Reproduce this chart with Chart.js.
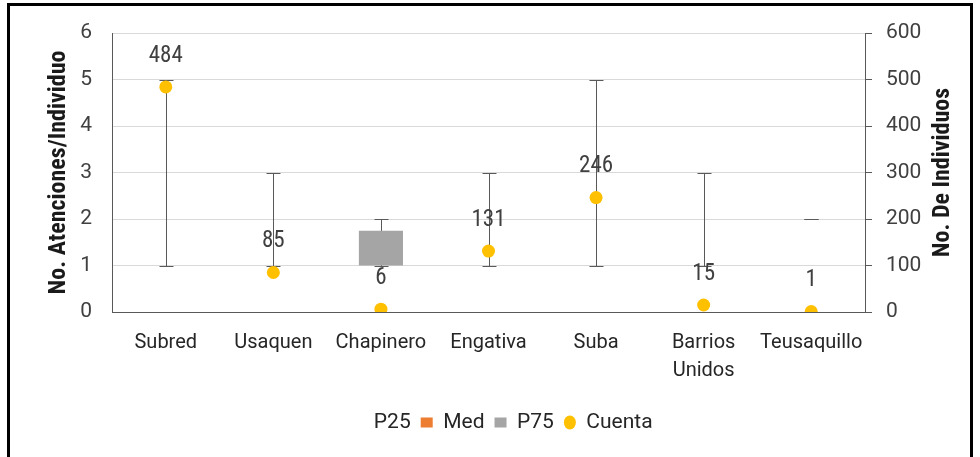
<!DOCTYPE html>
<html>
<head>
<meta charset="utf-8">
<script src="https://cdn.jsdelivr.net/npm/chart.js@4.4.1/dist/chart.umd.min.js"></script>
<style>
  html, body { margin: 0; padding: 0; background: #fff; }
  #wrap { position: relative; width: 980px; height: 457px; overflow: hidden; }
  #marco { position: absolute; left: 7px; top: 3px; width: 960px; height: 500px; border: 3px solid #000; pointer-events: none; }
</style>
</head>
<body>
<div id="wrap">
  <canvas id="grafica" width="980" height="457"></canvas>
  <div id="marco"></div>
</div>
<script>
// --- DATOS ---
const categorias = ['Subred', 'Usaquen', 'Chapinero', 'Engativa', 'Suba', ['Barrios', 'Unidos'], 'Teusaquillo'];
const p25 = [1, 1, 1, 1, 1, 1, 2];          // base invisible
const med = [0, 0, 0, 0, 0, 0, 0];          // tramo P25 -> mediana
const p75 = [0, 0, 0.75, 0, 0, 0, 0];       // tramo mediana -> P75
const minimos = [1, 1, 1, 1, 1, 1, 2];
const maximos = [5, 3, 2, 3, 5, 3, 2];
const cuenta = [484, 85, 6, 131, 246, 15, 1];
const ticksIzq = [0, 1, 2, 3, 4, 5, 6];
const ticksDer = [0, 100, 200, 300, 400, 500, 600];

// Roboto condensada para parecerse a Arial Narrow
const FUENTE = "Roboto, 'Liberation Sans', sans-serif";
const TEXTO = '#404040';
const LINEA = '#595959';

// bigotes (min - max) con sus topes
const bigotes = {
    id: 'bigotes',
    beforeDatasetsDraw(chart) {
        const { ctx, scales: { x, y } } = chart;
        ctx.save();
        ctx.strokeStyle = LINEA;
        ctx.lineWidth = 1;
        categorias.forEach((c, i) => {
            const px = Math.round(x.getPixelForValue(i)) + 0.5;
            const yMin = Math.round(y.getPixelForValue(minimos[i])) + 0.5;
            const yMax = Math.round(y.getPixelForValue(maximos[i])) + 0.5;
            ctx.beginPath();
            ctx.moveTo(px, yMin);
            ctx.lineTo(px, yMax);
            ctx.moveTo(px - 7, yMin);
            ctx.lineTo(px + 7, yMin);
            ctx.moveTo(px - 7, yMax);
            ctx.lineTo(px + 7, yMax);
            ctx.stroke();
        });
        ctx.restore();
    }
};

// etiquetas de la cuenta
const etiquetas = {
    id: 'etiquetas',
    afterDatasetsDraw(chart) {
        const { ctx } = chart;
        const meta = chart.getDatasetMeta(3);
        ctx.save();
        ctx.font = `condensed 23px ${FUENTE}`;
        ctx.fillStyle = TEXTO;
        ctx.textAlign = 'center';
        ctx.textBaseline = 'middle';
        meta.data.forEach((pt, i) => {
            ctx.fillText(String(cuenta[i]), pt.x, pt.y - 31);
        });
        ctx.restore();
    }
};

// titulos de ejes (ambos leen de abajo hacia arriba)
const titulos = {
    id: 'titulos',
    afterDraw(chart) {
        const { ctx, chartArea } = chart;
        const cy = (chartArea.top + chartArea.bottom) / 2;
        ctx.save();
        ctx.font = `condensed bold 24px ${FUENTE}`;
        ctx.fillStyle = '#1a1a1a';
        ctx.textAlign = 'center';
        ctx.textBaseline = 'middle';
        [[59, 'No. Atenciones/Individuo'], [943, 'No. De Individuos']].forEach(([tx, txt]) => {
            ctx.save();
            ctx.translate(tx, cy);
            ctx.rotate(-Math.PI / 2);
            ctx.fillText(txt, 0, 0);
            ctx.restore();
        });
        ctx.restore();
    }
};

// la leyenda del original esta algo corrida a la derecha
const moverLeyenda = {
    id: 'moverLeyenda',
    afterLayout(chart) {
        if (!chart.legend) return;
        chart.legend.left += 12;
        chart.legend.right += 12;
    }
};

Chart.defaults.font.family = FUENTE;
Chart.defaults.font.style = 'condensed';
Chart.defaults.color = TEXTO;

new Chart(document.getElementById('grafica'), {
    data: {
        labels: categorias,
        datasets: [
            { type: 'bar', label: 'P25', data: p25, backgroundColor: 'rgba(0,0,0,0)', pointStyle: 'rect', stack: 'caja', order: 2 },
            { type: 'bar', label: 'Med', data: med, backgroundColor: '#ED7D31', pointStyle: 'rect', stack: 'caja', order: 2 },
            { type: 'bar', label: 'P75', data: p75, backgroundColor: '#A5A5A5', pointStyle: 'rect', stack: 'caja', order: 2 },
            {
                type: 'line', label: 'Cuenta', data: cuenta, yAxisID: 'y1', showLine: false,
                pointStyle: 'circle', pointRadius: 6.5, pointHoverRadius: 6.5,
                backgroundColor: '#FFC000', borderColor: '#FFC000', borderWidth: 0, order: 1
            }
        ]
    },
    options: {
        responsive: false,
        animation: false,
        events: [],
        layout: { padding: { left: 0, right: 0, top: 33, bottom: 14 } },
        datasets: { bar: { categoryPercentage: 1, barPercentage: 0.41 } },
        plugins: {
            tooltip: { enabled: false },
            legend: {
                position: 'bottom',
                labels: {
                    usePointStyle: true,
                    pointStyleWidth: 12,
                    boxHeight: 10,
                    padding: 10,
                    font: { size: 21 },
                    color: '#262626',
                    sort: (a, b) => a.datasetIndex - b.datasetIndex
                }
            }
        },
        scales: {
            x: {
                stacked: true,
                grid: { display: false, drawTicks: false },
                border: { display: true, color: LINEA, width: 1 },
                ticks: { padding: 17, font: { size: 20, lineHeight: 1.4 }, color: '#262626', maxRotation: 0, autoSkip: false },
                afterFit(scale) { scale.height = 90; }
            },
            y: {
                stacked: true,
                position: 'left',
                min: 0, max: 6,
                afterBuildTicks(scale) { scale.ticks = ticksIzq.map(v => ({ value: v })); },
                grid: { color: '#D9D9D9', drawTicks: false },
                border: { display: true, color: LINEA, width: 1 },
                ticks: { padding: 20, font: { size: 21 }, color: TEXTO },
                afterFit(scale) { scale.width = 112; }
            },
            y1: {
                position: 'right',
                min: 0, max: 600,
                afterBuildTicks(scale) { scale.ticks = ticksDer.map(v => ({ value: v })); },
                grid: { drawOnChartArea: false, drawTicks: true, tickLength: 7, color: LINEA },
                border: { display: true, color: LINEA, width: 1 },
                ticks: { padding: 14, font: { size: 21 }, color: TEXTO },
                afterFit(scale) { scale.width = 115; }
            }
        }
    },
    plugins: [bigotes, etiquetas, titulos, moverLeyenda]
});
</script>
</body>
</html>
